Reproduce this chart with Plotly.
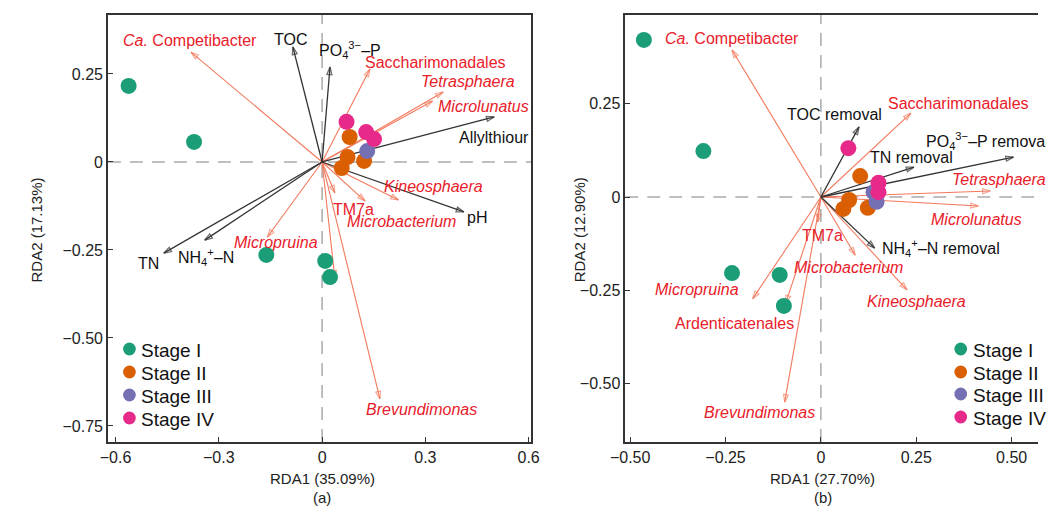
import plotly.graph_objects as go

# ---------------- data ----------------
stages = ["Stage I", "Stage II", "Stage III", "Stage IV"]
stage_colors = ["#1b9e77", "#d95f02", "#7570b3", "#e7298a"]

# Panel (a) sample scores
a_s1_x = [-0.562, -0.372, -0.162, 0.009, 0.023]
a_s1_y = [0.216, 0.057, -0.264, -0.281, -0.327]
a_s2_x = [0.080, 0.074, 0.057, 0.122]
a_s2_y = [0.071, 0.014, -0.017, 0.003]
a_s3_x = [0.131]
a_s3_y = [0.031]
a_s4_x = [0.071, 0.128, 0.151]
a_s4_y = [0.114, 0.085, 0.065]

# Panel (a) environmental arrows
a_env_names = ["TOC", "PO<sub>4</sub><sup>3−</sup>–P", "Allylthiour", "pH", "TN",
               "NH<sub>4</sub><sup>+</sup>–N"]
a_env_x = [-0.085, 0.023, 0.500, 0.412, -0.460, -0.341]
a_env_y = [0.327, 0.270, 0.128, -0.142, -0.259, -0.222]
a_env_lx = [-0.091, 0.082, 0.500, 0.449, -0.503, -0.338]
a_env_ly = [0.347, 0.318, 0.071, -0.159, -0.287, -0.270]

# Panel (a) genus arrows
a_sp_names = ["<i>Ca.</i> Competibacter", "Saccharimonadales", "<i>Tetrasphaera</i>",
              "<i>Microlunatus</i>", "<i>Kineosphaera</i>", "<i>Microbacterium</i>",
              "TM7a", "<i>Micropruina</i>", "<i>Brevundimonas</i>", ""]
a_sp_x = [-0.381, 0.139, 0.352, 0.321, 0.222, 0.125, 0.037, -0.159, 0.168, 0.037]
a_sp_y = [0.312, 0.264, 0.199, 0.173, -0.108, -0.111, -0.088, -0.213, -0.673, -0.330]
a_sp_lx = [-0.384, 0.330, 0.424, 0.469, 0.324, 0.230, 0.091, -0.135, 0.290, 0.037]
a_sp_ly = [0.344, 0.284, 0.230, 0.159, -0.071, -0.168, -0.134, -0.230, -0.702, -0.330]

# Panel (b) sample scores
b_s1_x = [-0.464, -0.308, -0.233, -0.108, -0.097]
b_s1_y = [0.421, 0.123, -0.204, -0.209, -0.292]
b_s2_x = [0.103, 0.074, 0.059, 0.123]
b_s2_y = [0.056, -0.008, -0.032, -0.029]
b_s3_x = [0.138, 0.146]
b_s3_y = [0.013, -0.013]
b_s4_x = [0.072, 0.151, 0.151]
b_s4_y = [0.131, 0.038, 0.013]

# Panel (b) environmental arrows
b_env_names = ["TOC removal", "PO<sub>4</sub><sup>3−</sup>–P removal", "TN removal",
               "NH<sub>4</sub><sup>+</sup>–N removal"]
b_env_x = [0.100, 0.505, 0.244, 0.141]
b_env_y = [0.188, 0.107, 0.080, -0.137]
b_env_lx = [0.036, 0.437, 0.238, 0.315]
b_env_ly = [0.220, 0.149, 0.106, -0.137]

# Panel (b) genus arrows
b_sp_names = ["<i>Ca.</i> Competibacter", "Saccharimonadales", "<i>Tetrasphaera</i>",
              "<i>Microlunatus</i>", "<i>Kineosphaera</i>", "<i>Microbacterium</i>",
              "TM7a", "<i>Micropruina</i>", "Ardenticatenales", "<i>Brevundimonas</i>"]
b_sp_x = [-0.233, 0.236, 0.444, 0.413, 0.226, 0.090, -0.008, -0.179, -0.092, -0.095]
b_sp_y = [0.394, 0.225, 0.016, -0.024, -0.249, -0.156, -0.067, -0.273, -0.284, -0.550]
b_sp_lx = [-0.233, 0.362, 0.466, 0.408, 0.251, 0.072, 0.003, -0.326, -0.226, -0.162]
b_sp_ly = [0.424, 0.252, 0.048, -0.059, -0.279, -0.188, -0.102, -0.249, -0.338, -0.579]

a_xticks = [-0.6, -0.3, 0, 0.3, 0.6]
a_xticktext = ["−0.6", "−0.3", "0", "0.3", "0.6"]
a_yticks = [0.25, 0, -0.25, -0.5, -0.75]
a_yticktext = ["0.25", "0", "−0.25", "−0.50", "−0.75"]
b_xticks = [-0.5, -0.25, 0, 0.25, 0.5]
b_xticktext = ["−0.50", "−0.25", "0", "0.25", "0.50"]
b_yticks = [0.25, 0, -0.25, -0.5]
b_yticktext = ["0.25", "0", "−0.25", "−0.50"]

# ---------------- style ----------------
FONT = "Liberation Sans, Arial, Helvetica, sans-serif"
W, H = 1046, 510
ENV_COLOR = "#333333"
SP_COLOR = "#f2795c"
LABEL_RED = "#e8202a"
AXIS_COLOR = "#333333"
LABEL_SIZE = 16

fig = go.Figure()


def arrow_trace(xs, ys, color, width, xa, ya):
    px, py, sizes = [], [], []
    for x, y in zip(xs, ys):
        px += [0, x, None]
        py += [0, y, None]
        sizes += [0, 8, 0]
    return go.Scatter(
        x=px, y=py, mode="lines+markers", xaxis=xa, yaxis=ya, showlegend=False,
        hoverinfo="skip", line=dict(color=color, width=width),
        marker=dict(symbol="arrow-open", angleref="previous", size=sizes,
                    color=color, line=dict(width=width, color=color)),
    )


fig.add_trace(arrow_trace(a_sp_x, a_sp_y, SP_COLOR, 1.1, "x", "y"))
fig.add_trace(arrow_trace(a_env_x, a_env_y, ENV_COLOR, 1.3, "x", "y"))
fig.add_trace(arrow_trace(b_sp_x, b_sp_y, SP_COLOR, 1.1, "x2", "y2"))
fig.add_trace(arrow_trace(b_env_x, b_env_y, ENV_COLOR, 1.3, "x2", "y2"))

panels = [
    ("x", "y", [(a_s1_x, a_s1_y), (a_s2_x, a_s2_y), (a_s3_x, a_s3_y), (a_s4_x, a_s4_y)]),
    ("x2", "y2", [(b_s1_x, b_s1_y), (b_s2_x, b_s2_y), (b_s3_x, b_s3_y), (b_s4_x, b_s4_y)]),
]
for xa, ya, groups in panels:
    for name, col, (gx, gy) in zip(stages, stage_colors, groups):
        fig.add_trace(go.Scatter(
            x=gx, y=gy, mode="markers", name=name, xaxis=xa, yaxis=ya,
            showlegend=False,
            marker=dict(size=16, color=col, line=dict(width=0)),
        ))

annotations = []
shapes = []


def add_labels(xref, yref, names, lx, ly, color):
    for n, x, y in zip(names, lx, ly):
        if not n:
            continue
        annotations.append(dict(
            x=x, y=y, xref=xref, yref=yref, text=n, showarrow=False,
            xanchor="center", yanchor="middle",
            font=dict(family=FONT, size=LABEL_SIZE, color=color),
        ))


add_labels("x", "y", a_sp_names, a_sp_lx, a_sp_ly, LABEL_RED)
add_labels("x", "y", a_env_names, a_env_lx, a_env_ly, "#111111")
add_labels("x2", "y2", b_sp_names, b_sp_lx, b_sp_ly, LABEL_RED)
add_labels("x2", "y2", b_env_names, b_env_lx, b_env_ly, "#111111")

# Axis titles and panel tags
for txt, x, y, ang in [
    ("RDA1 (35.09%)", 314 / W, 1 - 478 / H, 0),
    ("(a)", 314 / W, 1 - 497 / H, 0),
    ("RDA1 (27.70%)", 826 / W, 1 - 478 / H, 0),
    ("(b)", 826 / W, 1 - 497 / H, 0),
    ("RDA2 (17.13%)", 22 / W, 1 - 230 / H, -90),
    ("RDA2 (12.90%)", 578 / W, 1 - 230 / H, -90),
]:
    annotations.append(dict(
        x=x, y=y, xref="paper", yref="paper", text=txt, showarrow=False,
        xanchor="center", yanchor="middle", textangle=ang,
        font=dict(family=FONT, size=15, color="#222222"),
    ))

# Legends (one per panel)
for cx, tx, rows in [(117, 127, [349, 372, 395, 418]), (967, 978, [349, 372, 394, 417])]:
    r = 6.5
    for name, col, cy in zip(stages, stage_colors, rows):
        shapes.append(dict(type="circle", xref="paper", yref="paper",
                           x0=(cx - r) / W, x1=(cx + r) / W,
                           y0=1 - (cy + r) / H, y1=1 - (cy - r) / H,
                           fillcolor=col, line=dict(width=0)))
        annotations.append(dict(
            x=tx / W, y=1 - (cy + 1) / H, xref="paper", yref="paper", text=name,
            showarrow=False, xanchor="left", yanchor="middle",
            font=dict(family=FONT, size=19, color="#111111"),
        ))

# Dashed zero lines
for xr, yr in [("x", "y"), ("x2", "y2")]:
    shapes.append(dict(type="line", xref=xr, yref=yr + " domain", x0=0, x1=0, y0=0, y1=1,
                       line=dict(color="#aaaaaa", width=1.5, dash="13px,9px"), layer="below"))
    shapes.append(dict(type="line", xref=xr + " domain", yref=yr, x0=0, x1=1, y0=0, y1=0,
                       line=dict(color="#aaaaaa", width=1.5, dash="13px,9px"), layer="below"))

common_axis = dict(
    showgrid=False, zeroline=False, showline=True, linecolor=AXIS_COLOR, linewidth=1.5,
    ticks="inside", ticklen=5, tickwidth=1.2, tickcolor=AXIS_COLOR,
    tickfont=dict(family=FONT, size=16, color="#222222"),
)

fig.update_layout(
    width=W, height=H,
    margin=dict(l=0, r=0, t=0, b=0),
    paper_bgcolor="white", plot_bgcolor="white",
    font=dict(family=FONT),
    showlegend=False,
    xaxis=dict(domain=[95 / W, 528 / W], range=[-0.6222, 0.6080],
               tickvals=a_xticks, ticktext=a_xticktext, mirror=True, anchor="y",
               **common_axis),
    yaxis=dict(domain=[1 - 442 / H, 1 - 15 / H], range=[-0.7955, 0.4176],
               tickvals=a_yticks, ticktext=a_yticktext, mirror=True, anchor="x",
               **common_axis),
    xaxis2=dict(domain=[624 / W, 1.0], range=[-0.5128, 0.5692],
                tickvals=b_xticks, ticktext=b_xticktext, mirror=True, anchor="y2",
                **common_axis),
    yaxis2=dict(domain=[1 - 442 / H, 1 - 15 / H], range=[-0.6568, 0.4879],
                tickvals=b_yticks, ticktext=b_yticktext, mirror=False, anchor="x2",
                **common_axis),
    annotations=annotations,
    shapes=shapes,
)

fig.write_html("out.html",
               config={"displayModeBar": False},
               post_script="document.body.style.margin='0px';"
                           "document.body.style.overflow='hidden';")
